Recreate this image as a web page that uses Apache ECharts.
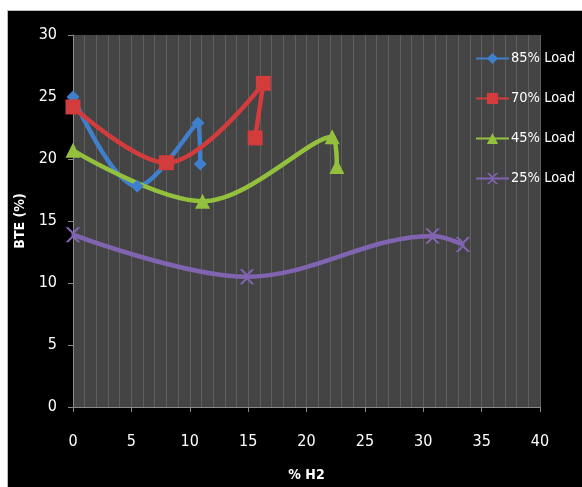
<!DOCTYPE html>
<html>
<head>
<meta charset="utf-8">
<script src="https://cdn.jsdelivr.net/npm/echarts@6/dist/echarts.min.js"></script>
<style>
html,body{margin:0;padding:0;background:#fff;}
#frame{position:absolute;left:7px;top:10px;width:575px;height:477px;background:#000;border-left:1px solid #bbb;border-top:1px solid #bbb;}
#c{position:absolute;left:0;top:0;width:582px;height:487px;}
</style>
</head>
<body>
<div id="frame"></div>
<div id="c"></div>
<script>
const seriesNames = ['85% Load', '70% Load', '45% Load', '25% Load'];
const h2_85 = [0, 5.5, 10.7, 10.9];
const bte_85 = [25.0, 17.8, 22.9, 19.6];
const h2_70 = [0, 8.0, 16.3, 15.6];
const bte_70 = [24.2, 19.7, 26.1, 21.7];
const h2_45 = [0, 11.1, 22.2, 22.6];
const bte_45 = [20.7, 16.6, 21.8, 19.4];
const h2_25 = [0, 14.9, 30.8, 33.4];
const bte_25 = [13.9, 10.5, 13.8, 13.1];
const xTicks = [0, 5, 10, 15, 20, 25, 30, 35, 40];
const yTicks = [0, 5, 10, 15, 20, 25, 30];

const colors = ['#3f7fcc', '#d23c3c', '#93c13e', '#8064b0'];
const crossPath = 'path://M0,0 L2,0 L5,3 L8,0 L10,0 L6,4 L6,6 L10,10 L8,10 L5,7 L2,10 L0,10 L4,6 L4,4 Z';
const symbols = ['diamond', 'rect', 'triangle', crossPath];
const sizes = [13, 15, 15, 15];
const xs = [h2_85, h2_70, h2_45, h2_25];
const ys = [bte_85, bte_70, bte_45, bte_25];
const font = '"DejaVu Sans Condensed", "Liberation Sans Narrow", "Open Sans", sans-serif';

const chart = echarts.init(document.getElementById('c'), null, {renderer: 'canvas'});
chart.setOption({
  backgroundColor: 'transparent',
  animation: false,
  grid: {left: 73, top: 35, right: 42, bottom: 78, show: true, backgroundColor: '#444444', borderWidth: 0},
  legend: {
    orient: 'vertical', left: 470, top: 46, itemWidth: 33, itemHeight: 14, itemGap: 25,
    data: seriesNames,
    textStyle: {color: '#ffffff', fontSize: 14.5, lineHeight: 14, fontFamily: font, padding: [0, 0, 0, -3]}
  },
  xAxis: {
    type: 'value', min: xTicks[0], max: xTicks[xTicks.length - 1], interval: 5,
    name: '% H2', nameLocation: 'middle', nameGap: 61,
    nameTextStyle: {color: '#fff', fontWeight: 'bold', fontSize: 14, fontFamily: font},
    axisLine: {show: true, lineStyle: {color: '#8a8a8a', width: 1}},
    axisTick: {show: true, length: 5, lineStyle: {color: '#8a8a8a'}},
    axisLabel: {color: '#fff', fontSize: 16, fontFamily: font, margin: 27},
    splitLine: {show: true, lineStyle: {color: '#5e5e5e', width: 1}},
    minorTick: {show: false, splitNumber: 5},
    minorSplitLine: {show: true, lineStyle: {color: '#5e5e5e', width: 1}}
  },
  yAxis: {
    type: 'value', min: yTicks[0], max: yTicks[yTicks.length - 1], interval: 5,
    name: 'BTE (%)', nameLocation: 'middle', nameGap: 46, nameRotate: 90,
    nameTextStyle: {color: '#fff', fontWeight: 'bold', fontSize: 14, fontFamily: font},
    axisLine: {show: true, lineStyle: {color: '#8a8a8a', width: 1}},
    axisTick: {show: true, length: 5, lineStyle: {color: '#8a8a8a'}},
    axisLabel: {color: '#fff', fontSize: 16, fontFamily: font, margin: 16},
    splitLine: {show: false}
  },
  series: seriesNames.map((n, i) => ({
    name: n, type: 'line', smooth: 0.35,
    data: xs[i].map((x, j) => [x, ys[i][j]]),
    symbol: symbols[i], symbolSize: sizes[i], showAllSymbol: true,
    lineStyle: {color: colors[i], width: 4.5},
    itemStyle: {color: colors[i]}
  }))
});
</script>
</body>
</html>
